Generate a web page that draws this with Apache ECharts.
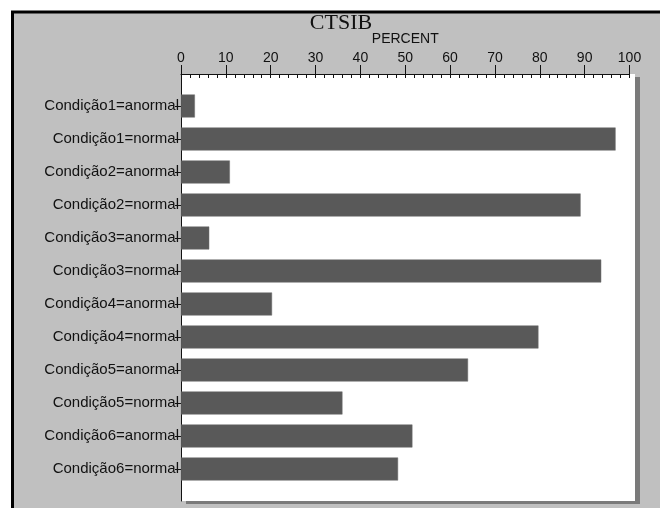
<!DOCTYPE html>
<html>
<head>
<meta charset="utf-8">
<script src="https://cdn.jsdelivr.net/npm/echarts@6/dist/echarts.min.js"></script>
<style>
html,body{margin:0;padding:0;background:#fff;}
#c{width:660px;height:508px;}
</style>
</head>
<body>
<div id="c"></div>
<script>
const categories = [
  'Condição1=anormal','Condição1=normal',
  'Condição2=anormal','Condição2=normal',
  'Condição3=anormal','Condição3=normal',
  'Condição4=anormal','Condição4=normal',
  'Condição5=anormal','Condição5=normal',
  'Condição6=anormal','Condição6=normal'
];
const percentValues = [3.1, 96.9, 10.9, 89.1, 6.3, 93.7, 20.3, 79.7, 64.0, 36.0, 51.6, 48.4];
const titleText = 'CTSIB';
const axisName = 'PERCENT';

const chart = echarts.init(document.getElementById('c'), null, {renderer:'canvas'});
const black = '#111';
const sans = '"Liberation Sans", Arial, sans-serif';
chart.setOption({
  animation: false,
  backgroundColor: '#fff',
  graphic: [
    {type:'rect', z:-10, shape:{x:12.5, y:12, width:700, height:600},
     style:{fill:'#c0c0c0', stroke:'#000', lineWidth:3}},
    {type:'text', x:341, y:23, style:{text:titleText, fill:black,
      font:'22px "Liberation Serif", "Times New Roman", serif', align:'center', verticalAlign:'middle'}}
  ],
  grid: [
    {left:181, right:25, top:74, bottom:7, show:true, backgroundColor:'#fff', borderWidth:0,
     shadowColor:'#7a7a7a', shadowBlur:0, shadowOffsetX:5, shadowOffsetY:3},
    {left:181, right:30.5, top:74, bottom:7},
    {left:181, right:30.5, top:89.5, height:396},
    {left:181, right:30.5, top:74, bottom:7}
  ],
  xAxis: [
    {gridIndex:0, type:'value', show:false, min:0, max:1},
    {gridIndex:1, type:'value', position:'top', min:0, max:100, interval:10,
     name:axisName, nameLocation:'middle', nameGap:24,
     nameTextStyle:{color:black, fontSize:14, fontFamily:sans},
     axisLine:{show:true, onZero:false, lineStyle:{color:black, width:1}},
     axisTick:{show:true, inside:false, length:9, lineStyle:{color:black}},
     axisLabel:{show:true, margin:9, color:black, fontSize:14, fontFamily:sans},
     splitLine:{show:false}},
    {gridIndex:3, type:'value', position:'top', min:0, max:100, interval:10,
     axisLine:{show:false, onZero:false},
     axisTick:{show:true, inside:true, length:4, lineStyle:{color:black}},
     minorTick:{show:true, splitNumber:5, length:4, lineStyle:{color:black}},
     axisLabel:{show:false}, splitLine:{show:false}},
    {gridIndex:2, type:'value', min:0, max:100, show:false}
  ],
  yAxis: [
    {gridIndex:0, type:'value', show:false, min:0, max:1},
    {gridIndex:1, type:'value', min:0, max:1,
     axisLine:{show:true, onZero:false, lineStyle:{color:black, width:1}},
     axisTick:{show:false}, axisLabel:{show:false}, splitLine:{show:false}},
    {gridIndex:2, type:'category', data:categories, inverse:true,
     axisLine:{show:false},
     axisTick:{show:true, alignWithLabel:true, length:6, lineStyle:{color:black}},
     axisLabel:{margin:2, color:black, fontSize:15, fontFamily:sans}},
    {gridIndex:3, type:'value', show:false, min:0, max:1}
  ],
  series: [{
    type:'bar', xAxisIndex:3, yAxisIndex:2, data:percentValues,
    barWidth:23,
    itemStyle:{color:'#595959', borderColor:'#6e6e6e', borderWidth:0.5}
  }]
});
</script>
</body>
</html>
